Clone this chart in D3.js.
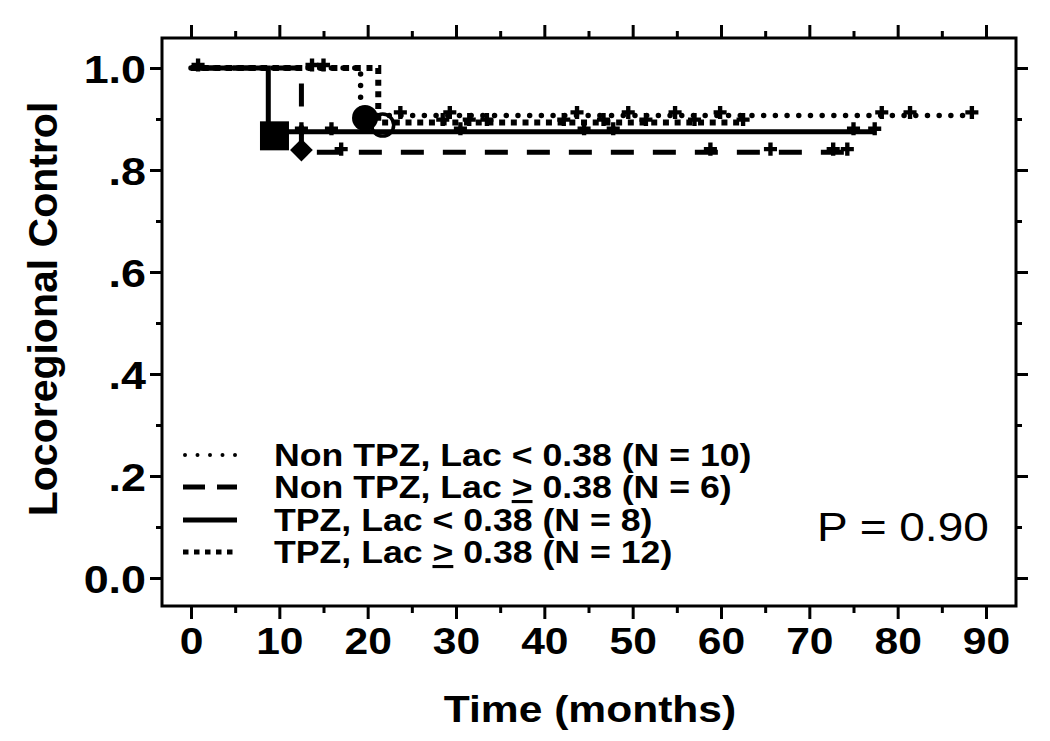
<!DOCTYPE html>
<html>
<head>
<meta charset="utf-8">
<script src="https://cdn.jsdelivr.net/npm/d3@7"></script>
<style>
  body { margin: 0; background: #fff; }
  svg { display: block; font-family: "Liberation Sans", Arial, sans-serif; }
</style>
</head>
<body>
<div id="viz"></div>
<script>
// Kaplan-Meier curves (time in months, locoregional control)
var seriesLabels = [
  "Non TPZ, Lac < 0.38 (N = 10)",
  "Non TPZ, Lac \u2265 0.38 (N = 6)",
  "TPZ, Lac < 0.38 (N = 8)",
  "TPZ, Lac \u2265 0.38 (N = 12)"
];

// step points for each curve
var nonTpzLowTimes = [0, 19.2, 88.4];
var nonTpzLowSurv = [1, 0.907, 0.907];
var nonTpzHighTimes = [0, 12.5, 74.8];
var nonTpzHighSurv = [1, 0.835, 0.835];
var tpzLowTimes = [0, 8.75, 77.4];
var tpzLowSurv = [1, 0.875, 0.875];
var tpzHighTimes = [0, 21.2, 62.5];
var tpzHighSurv = [1, 0.893, 0.893];

// censored observations (months)
var nonTpzLowCensor = [23.7, 29.3, 43.7, 49.5, 54.8, 59.9, 78.2, 81.4, 88.4];
var nonTpzHighCensor = [17.0, 58.8, 65.6, 72.7, 74.3];
var tpzLowCensor = [12.5, 15.9, 30.5, 44.5, 47.8, 75.0, 77.4];
var tpzHighCensor = [0.8, 13.7, 15.0, 28.5, 31.5, 33.5, 42.2, 46.7, 51.5, 57.0, 62.5];

// event symbols drawn at the drops [time, value]
var nonTpzLowEvent = [19.7, 0.902];
var nonTpzHighEvent = [12.5, 0.839];
var tpzLowEvent = [9.45, 0.867];
var tpzHighEvent = [21.7, 0.888];

var xTicks = [0, 10, 20, 30, 40, 50, 60, 70, 80, 90];
var xMinorTicks = [5, 15, 25, 35, 45, 55, 65, 75, 85];
var yTicks = [0, 0.2, 0.4, 0.6, 0.8, 1.0];
var yMinorTicks = [0.1, 0.3, 0.5, 0.7, 0.9];
var pValueText = "P = 0.90";

var width = 1050;
var height = 741;
var frame = {left: 162, right: 1016, top: 38, bottom: 606};
var stretch = 1.15; // the glyphs in the figure are a bit wider than Arial

var x = d3.scaleLinear().domain([0, 90]).range([191, 986]);
var y = d3.scaleLinear().domain([0, 1]).range([578, 68]);

var svg = d3.select('#viz').append('svg')
  .attr('width', width)
  .attr('height', height);

// widen a text element horizontally like the original
function widen(sel) {
  sel.each(function () {
    var w = this.getComputedTextLength();
    d3.select(this).attr('textLength', w * stretch).attr('lengthAdjust', 'spacingAndGlyphs');
  });
}

// ---- axes ----
function yFormat(v) {
  if (v === 0) return '0.0';
  if (v === 1) return '1.0';
  return d3.format('.1f')(v).replace(/^0/, '');
}

var yAxis = svg.append('g').attr('transform', 'translate(' + frame.left + ',0)')
  .call(d3.axisLeft(y).tickValues(yTicks).tickSize(12).tickPadding(4).tickFormat(yFormat));
svg.append('g').attr('transform', 'translate(' + frame.left + ',0)')
  .call(d3.axisLeft(y).tickValues(yMinorTicks).tickSize(6).tickFormat(''));
svg.append('g').attr('transform', 'translate(' + frame.right + ',0)')
  .call(d3.axisRight(y).tickValues(yTicks).tickSize(12).tickFormat(''));
svg.append('g').attr('transform', 'translate(' + frame.right + ',0)')
  .call(d3.axisRight(y).tickValues(yMinorTicks).tickSize(6).tickFormat(''));

var xAxis = svg.append('g').attr('transform', 'translate(0,' + frame.bottom + ')')
  .call(d3.axisBottom(x).tickValues(xTicks).tickSize(13).tickPadding(8).tickFormat(d3.format('d')));
svg.append('g').attr('transform', 'translate(0,' + frame.bottom + ')')
  .call(d3.axisBottom(x).tickValues(xMinorTicks).tickSize(7).tickFormat(''));
svg.append('g').attr('transform', 'translate(0,' + frame.top + ')')
  .call(d3.axisTop(x).tickValues(xTicks).tickSize(13).tickFormat(''));
svg.append('g').attr('transform', 'translate(0,' + frame.top + ')')
  .call(d3.axisTop(x).tickValues(xMinorTicks).tickSize(7).tickFormat(''));

svg.selectAll('.domain').remove();
svg.selectAll('.tick line').attr('stroke', '#000').attr('stroke-width', 3);

yAxis.selectAll('text')
  .attr('font-size', 39).attr('font-weight', 'bold').attr('fill', '#000')
  .attr('dy', '0.36em')
  .call(widen);
xAxis.selectAll('text')
  .attr('font-size', 37).attr('font-weight', 'bold').attr('fill', '#000')
  .attr('dy', '0.72em')
  .call(widen);

// plot frame
svg.append('rect')
  .attr('x', frame.left).attr('y', frame.top)
  .attr('width', frame.right - frame.left).attr('height', frame.bottom - frame.top)
  .attr('fill', 'none').attr('stroke', '#000').attr('stroke-width', 3);

// axis titles
svg.append('text')
  .attr('x', 590).attr('y', 722)
  .attr('text-anchor', 'middle')
  .attr('font-size', 37).attr('font-weight', 'bold')
  .text('Time (months)')
  .call(widen);

svg.append('text')
  .attr('transform', 'translate(57,309) rotate(-90)')
  .attr('text-anchor', 'middle')
  .attr('font-size', 41).attr('font-weight', 'bold')
  .text('Locoregional Control');

// ---- curves ----
var styles = [
  {width: 5.5, dash: '0 11.7', cap: 'round'},
  {width: 5, dash: '23 19', cap: 'butt'},
  {width: 5, dash: null, cap: 'butt'},
  {width: 6, dash: '6 5.7', cap: 'butt'}
];

var curves = [
  {times: nonTpzLowTimes, surv: nonTpzLowSurv, censor: nonTpzLowCensor, event: nonTpzLowEvent},
  {times: nonTpzHighTimes, surv: nonTpzHighSurv, censor: nonTpzHighCensor, event: nonTpzHighEvent},
  {times: tpzLowTimes, surv: tpzLowSurv, censor: tpzLowCensor, event: tpzLowEvent},
  {times: tpzHighTimes, surv: tpzHighSurv, censor: tpzHighCensor, event: tpzHighEvent}
];

var line = d3.line()
  .x(function (d) { return x(d[0]); })
  .y(function (d) { return y(d[1]); })
  .curve(d3.curveStepAfter);

// value of a step curve at time t
function stepValue(c, t) {
  var v = c.surv[0];
  c.times.forEach(function (tt, i) { if (tt <= t) v = c.surv[i]; });
  return v;
}

var drawOrder = [1, 2, 3, 0];
drawOrder.forEach(function (i) {
  var c = curves[i];
  var pts = c.times.map(function (t, k) { return [t, c.surv[k]]; });
  svg.append('path')
    .attr('d', line(pts))
    .attr('fill', 'none')
    .attr('stroke', '#000')
    .attr('stroke-width', styles[i].width)
    .attr('stroke-linecap', styles[i].cap)
    .attr('stroke-dasharray', styles[i].dash);
});

// censor marks (small plus signs sitting on the curve)
var cross = d3.symbol().type(d3.symbolCross).size(95);
curves.forEach(function (c) {
  svg.append('g').selectAll('path')
    .data(c.censor)
    .enter().append('path')
    .attr('d', cross)
    .attr('transform', function (t) {
      return 'translate(' + x(t) + ',' + (y(stepValue(c, t)) - 3) + ')';
    })
    .attr('fill', '#000');
});

// event symbols
svg.append('circle')
  .attr('cx', x(nonTpzLowEvent[0])).attr('cy', y(nonTpzLowEvent[1]))
  .attr('r', 13).attr('fill', '#000');
svg.append('path')
  .attr('d', d3.symbol().type(d3.symbolDiamond2).size(330)())
  .attr('transform', 'translate(' + x(nonTpzHighEvent[0]) + ',' + y(nonTpzHighEvent[1]) + ')')
  .attr('fill', '#000');
svg.append('rect')
  .attr('x', x(tpzLowEvent[0]) - 14.5).attr('y', y(tpzLowEvent[1]) - 14.5)
  .attr('width', 29).attr('height', 29).attr('fill', '#000');
svg.append('circle')
  .attr('cx', x(tpzHighEvent[0])).attr('cy', y(tpzHighEvent[1]))
  .attr('r', 11).attr('fill', 'none')
  .attr('stroke', '#000').attr('stroke-width', 3.5);

// ---- legend ----
var legendStyles = [
  {width: 4, dash: '0 12.5', cap: 'round'},
  {width: 5, dash: '22 12', cap: 'butt'},
  {width: 5, dash: null, cap: 'butt'},
  {width: 5, dash: '5.5 5.5', cap: 'butt'}
];
var legendRows = [455, 487, 520, 552];

var legend = svg.append('g');
seriesLabels.forEach(function (label, i) {
  var cy = legendRows[i];
  legend.append('line')
    .attr('x1', i === 0 ? 185 : 183).attr('x2', i === 0 ? 236 : 237)
    .attr('y1', cy).attr('y2', cy)
    .attr('stroke', '#000')
    .attr('stroke-width', legendStyles[i].width)
    .attr('stroke-linecap', legendStyles[i].cap)
    .attr('stroke-dasharray', legendStyles[i].dash);

  var t = legend.append('text')
    .attr('x', 274).attr('y', cy + 11)
    .attr('font-size', 31).attr('font-weight', 'bold');
  // the figure writes >= as an underlined ">"
  var parts = label.split('\u2265');
  t.append('tspan').text(parts[0]);
  if (parts.length > 1) {
    t.append('tspan').attr('text-decoration', 'underline').text('>');
    t.append('tspan').text(parts[1]);
  }
  widen(t);
});

// p-value
svg.append('text')
  .attr('x', 817).attr('y', 541)
  .attr('font-size', 40)
  .text(pValueText)
  .call(widen);
</script>
</body>
</html>
